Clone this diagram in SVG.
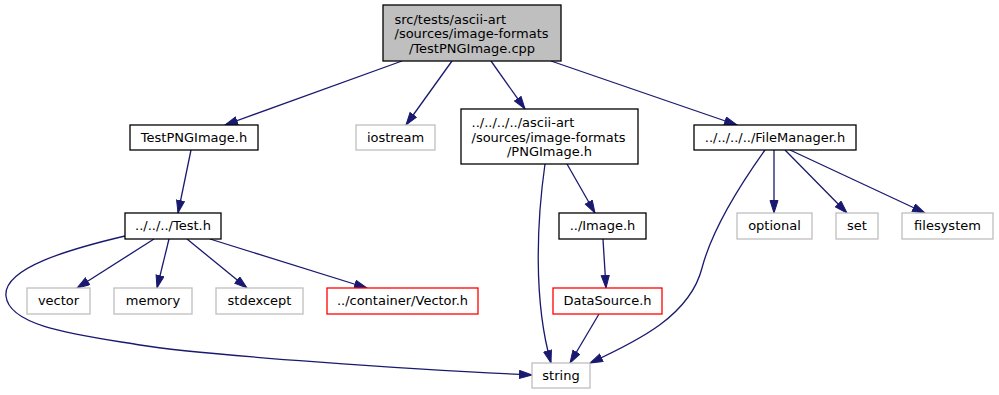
<svg xmlns="http://www.w3.org/2000/svg" width="999" height="395" viewBox="0 0 999 395">
  <style>
    .box { fill: #ffffff; stroke: #000000; stroke-width: 1.3; }
    .root { fill: #bfbfbf; stroke: #000000; stroke-width: 1.3; }
    .ext { fill: #ffffff; stroke: #bfbfbf; stroke-width: 1.3; }
    .trunc { fill: #ffffff; stroke: #ff0000; stroke-width: 1.3; }
    text { font-family: "DejaVu Sans", "Liberation Sans", sans-serif; font-size: 13px; fill: #000000; }
    .c { text-anchor: middle; }
    .l { text-anchor: start; }
    .edge { fill: none; stroke: #191970; stroke-width: 1.3; marker-end: url(#arrow); }
  </style>
  <defs>
    <marker id="arrow" markerUnits="userSpaceOnUse" markerWidth="14" markerHeight="10" refX="13" refY="4.5" orient="auto">
      <path d="M0.5,0.5 L13,4.5 L0.5,8.5 z" fill="#191970" stroke="#191970" stroke-width="1"/>
    </marker>
  </defs>
  <rect width="999" height="395" fill="#ffffff"/>

  <g id="connectors">
    <path class="edge" d="M402,61 L225,125"/>
    <path class="edge" d="M452,61 L406,125"/>
    <path class="edge" d="M491,61 L525,109"/>
    <path class="edge" d="M551,61 L737,125"/>
    <path class="edge" d="M191,150 L178,213"/>
    <path class="edge" d="M154,239 L77,288"/>
    <path class="edge" d="M169,239 L157,288"/>
    <path class="edge" d="M187,239 L247,288"/>
    <path class="edge" d="M210,239 L367,288"/>
    <path class="edge" d="M125,236 C70,249 3,268 6,296 C9,327 79,335 140,345 C200,355 420,370 532,375"/>
    <path class="edge" d="M545,164 C537,220 533,300 551,363"/>
    <path class="edge" d="M567,164 L595,213"/>
    <path class="edge" d="M603,239 L606,288"/>
    <path class="edge" d="M599,314 L570,363"/>
    <path class="edge" d="M765,150 C740,185 712,230 702,268 C690,315 640,340 590,363"/>
    <path class="edge" d="M774,150 L774,213"/>
    <path class="edge" d="M785,150 L847,213"/>
    <path class="edge" d="M790,150 L925,213"/>
  </g>

  <g id="node-root">
    <rect class="root" x="383" y="5" width="178" height="56"/>
    <text class="l" x="394.5" y="23.5">src/tests/ascii-art</text>
    <text class="l" x="394.5" y="38">/sources/image-formats</text>
    <text class="c" x="472" y="52.5">/TestPNGImage.cpp</text>
  </g>
  <g id="node-testpngimage-h">
    <rect class="box" x="130" y="125" width="128" height="25"/>
    <text class="c" x="194" y="141.5">TestPNGImage.h</text>
  </g>
  <g id="node-iostream">
    <rect class="ext" x="356" y="125" width="79" height="25"/>
    <text class="c" x="395.5" y="141.5">iostream</text>
  </g>
  <g id="node-pngimage-h">
    <rect class="box" x="461" y="109" width="177" height="55"/>
    <text class="l" x="471.5" y="127">../../../../ascii-art</text>
    <text class="l" x="471.5" y="141.5">/sources/image-formats</text>
    <text class="c" x="549.5" y="156">/PNGImage.h</text>
  </g>
  <g id="node-filemanager-h">
    <rect class="box" x="694" y="125" width="162" height="25"/>
    <text class="c" x="775" y="141.5">../../../../FileManager.h</text>
  </g>
  <g id="node-test-h">
    <rect class="box" x="125" y="213" width="96" height="26"/>
    <text class="c" x="173" y="230">../../../Test.h</text>
  </g>
  <g id="node-image-h">
    <rect class="box" x="559" y="213" width="87" height="26"/>
    <text class="c" x="602.5" y="230">../Image.h</text>
  </g>
  <g id="node-optional">
    <rect class="ext" x="737" y="213" width="75" height="26"/>
    <text class="c" x="774.5" y="230">optional</text>
  </g>
  <g id="node-set">
    <rect class="ext" x="836" y="213" width="42" height="26"/>
    <text class="c" x="857" y="230">set</text>
  </g>
  <g id="node-filesystem">
    <rect class="ext" x="902" y="213" width="91" height="26"/>
    <text class="c" x="947.5" y="230">filesystem</text>
  </g>
  <g id="node-vector">
    <rect class="ext" x="27" y="288" width="63" height="26"/>
    <text class="c" x="58.5" y="305">vector</text>
  </g>
  <g id="node-memory">
    <rect class="ext" x="114" y="288" width="78" height="26"/>
    <text class="c" x="153" y="305">memory</text>
  </g>
  <g id="node-stdexcept">
    <rect class="ext" x="216" y="288" width="87" height="26"/>
    <text class="c" x="259.5" y="305">stdexcept</text>
  </g>
  <g id="node-container-vector-h">
    <rect class="trunc" x="327" y="288" width="151" height="26"/>
    <text class="c" x="402.5" y="305">../container/Vector.h</text>
  </g>
  <g id="node-datasource-h">
    <rect class="trunc" x="553" y="288" width="109" height="26"/>
    <text class="c" x="607.5" y="305">DataSource.h</text>
  </g>
  <g id="node-string">
    <rect class="ext" x="532" y="363" width="58" height="25"/>
    <text class="c" x="561" y="380">string</text>
  </g>
</svg>
